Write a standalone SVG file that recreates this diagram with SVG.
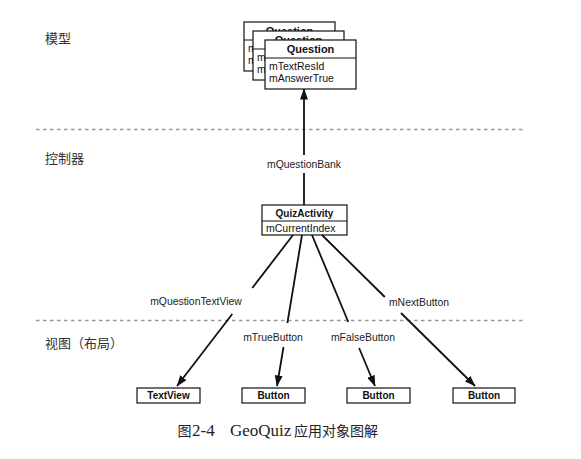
<svg xmlns="http://www.w3.org/2000/svg" width="581" height="459" viewBox="0 0 581 459">
<style>
  .bg{fill:#ffffff}
  .box{fill:#ffffff;stroke:#111;stroke-width:1.2}
  .div{stroke:#111;stroke-width:1.1}
  .title{font-family:"Liberation Sans",Arial,sans-serif;font-weight:bold;fill:#111;text-anchor:middle}
  .attr{font-family:"Liberation Sans",Arial,sans-serif;font-size:10.5px;fill:#111}
  .elabel{font-family:"Liberation Sans",Arial,sans-serif;font-size:10.4px;fill:#222;text-anchor:middle}
  .layer{font-family:"Noto Sans CJK SC","Noto Sans",sans-serif;font-size:13px;fill:#333}
  .sep{stroke:#999;stroke-width:1.6;stroke-dasharray:3.5 3.5;fill:none}
  .conn{stroke:#111;stroke-width:1.8;fill:none}
  .cap{font-family:"Liberation Serif","Noto Sans CJK SC",serif;fill:#222}
</style>
<defs>
  <marker id="arrow" markerUnits="userSpaceOnUse" markerWidth="11" markerHeight="8" refX="10.5" refY="4" orient="auto">
    <path d="M0,0 L11,4 L0,8 Z" fill="#111"/>
  </marker>
  <clipPath id="clipBack"><rect x="244" y="22" width="91" height="9"/></clipPath>
  <clipPath id="clipSecond"><rect x="253" y="31" width="91" height="9"/></clipPath>
</defs>
<rect class="bg" x="0" y="0" width="581" height="459"/>

<g id="layers">
  <line class="sep" x1="36" y1="129.5" x2="524" y2="129.5"/>
  <line class="sep" x1="36" y1="320.5" x2="524" y2="320.5"/>
  <text class="layer" x="45" y="43">模型</text>
  <text class="layer" x="45" y="163">控制器</text>
  <text class="layer" x="45" y="348">视图（布局）</text>
</g>

<g id="node-question">
  <rect class="box" x="244" y="22" width="91" height="49"/>
  <line class="div" x1="244" y1="40" x2="335" y2="40"/>
  <text class="title" x="289.5" y="35" font-size="11" clip-path="url(#clipBack)">Question</text>
  <text class="attr" x="248" y="52">m</text>
  <text class="attr" x="248" y="64">m</text>

  <rect class="box" x="253" y="31" width="91" height="49"/>
  <line class="div" x1="253" y1="49" x2="344" y2="49"/>
  <text class="title" x="298.5" y="44" font-size="11" clip-path="url(#clipSecond)">Question</text>
  <text class="attr" x="257" y="61">m</text>
  <text class="attr" x="257" y="73">m</text>

  <rect class="box" x="265" y="40" width="91" height="49"/>
  <line class="div" x1="265" y1="58" x2="356" y2="58"/>
  <text class="title" x="310.5" y="53" font-size="11">Question</text>
  <text class="attr" x="269" y="70">mTextResId</text>
  <text class="attr" x="269" y="82">mAnswerTrue</text>
</g>

<g id="node-quizactivity">
  <rect class="box" x="262" y="205" width="85" height="30"/>
  <line class="div" x1="262" y1="221" x2="347" y2="221"/>
  <text class="title" x="304.5" y="217" font-size="10">QuizActivity</text>
  <text class="attr" x="266" y="231.5" font-size="10.2">mCurrentIndex</text>
</g>

<g id="node-textview">
  <rect class="box" x="137" y="388" width="63" height="15"/>
  <text class="title" x="168.5" y="399" font-size="10">TextView</text>
</g>
<g id="node-truebutton">
  <rect class="box" x="242" y="388" width="63" height="15"/>
  <text class="title" x="273.5" y="399" font-size="10">Button</text>
</g>
<g id="node-falsebutton">
  <rect class="box" x="347" y="388" width="63" height="15"/>
  <text class="title" x="378.5" y="399" font-size="10">Button</text>
</g>
<g id="node-nextbutton">
  <rect class="box" x="453" y="388" width="62" height="15"/>
  <text class="title" x="484" y="399" font-size="10">Button</text>
</g>

<g id="connectors">
  <line class="conn" x1="304" y1="205" x2="304" y2="173"/>
  <line class="conn" x1="304" y1="155" x2="304" y2="89" marker-end="url(#arrow)"/>
  <text class="elabel" x="304" y="168">mQuestionBank</text>

  <line class="conn" x1="293" y1="235" x2="252.3" y2="288"/>
  <line class="conn" x1="232.3" y1="314" x2="177" y2="386" marker-end="url(#arrow)"/>
  <text class="elabel" x="196" y="305">mQuestionTextView</text>

  <line class="conn" x1="302" y1="235" x2="287.4" y2="323"/>
  <line class="conn" x1="283.5" y1="347" x2="277" y2="386" marker-end="url(#arrow)"/>
  <text class="elabel" x="273" y="341">mTrueButton</text>

  <line class="conn" x1="312" y1="235" x2="348.3" y2="322"/>
  <line class="conn" x1="359.1" y1="348" x2="375" y2="386" marker-end="url(#arrow)"/>
  <text class="elabel" x="363" y="341">mFalseButton</text>

  <line class="conn" x1="322" y1="235" x2="384.8" y2="297"/>
  <line class="conn" x1="401" y1="313" x2="475" y2="386" marker-end="url(#arrow)"/>
  <text class="elabel" x="419" y="306">mNextButton</text>
</g>

<g id="caption">
  <text class="cap" y="436"><tspan x="177.5" font-size="14">图</tspan><tspan x="192" font-size="17">2-4</tspan><tspan x="230" font-size="17">GeoQuiz</tspan><tspan x="294" font-size="14">应用对象图解</tspan></text>
</g>
</svg>
